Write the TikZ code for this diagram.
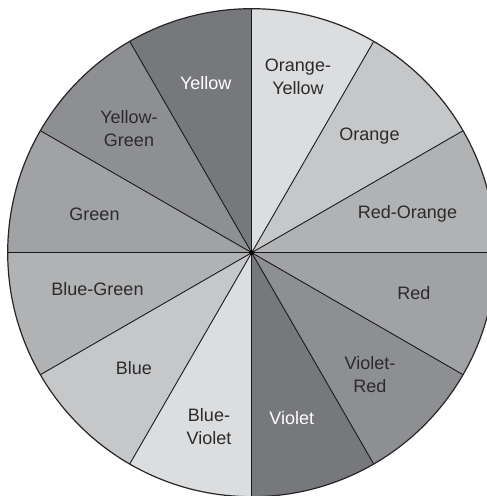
\documentclass[tikz,border=0pt]{standalone}
\usepackage{fontspec}
\setmainfont{Liberation Sans}
\definecolor{gA}{HTML}{77787B}
\definecolor{gB}{HTML}{8E8F92}
\definecolor{gC}{HTML}{A1A2A5}
\definecolor{gD}{HTML}{B1B2B4}
\definecolor{gE}{HTML}{C6C7C9}
\definecolor{gF}{HTML}{DCDDDF}
\definecolor{txt}{HTML}{2B2B2B}
\begin{document}
\begin{tikzpicture}[x=1pt,y=1pt,
  lbl/.style={font=\fontsize{18}{23}\selectfont, text=txt, align=center, inner sep=0pt},
  wlbl/.style={lbl, text=white},
  spoke/.style={line width=0.9pt, black!90},
  rim/.style={line width=1.2pt, black!85}]
\useasboundingbox (0,0) rectangle (487,496);
\clip (0,0) rectangle (487,496);
\coordinate (c) at (251.7,243.3);
\foreach \a/\col in {0/gD,30/gE,60/gF,90/gA,120/gB,150/gC,180/gD,210/gE,240/gF,270/gA,300/gB,330/gC}{
  \fill[\col] (c) -- ++(\a:244) arc[start angle=\a, end angle=\a+30, radius=244] -- cycle;
}
\foreach \a in {0,30,...,330}{
  \draw[spoke] (c) -- ++(\a:244);
}
\draw[rim] (c) circle[radius=244];
\fill (c) circle[radius=2.5];
\node[wlbl] (yellow) at (205.7,413.3) {Yellow};
\node[lbl] (oy) at (298,419.5) {Orange-\\Yellow};
\node[lbl] (orange) at (369.5,360) {Orange};
\node[lbl] (ro) at (407.5,282) {Red-Orange};
\node[lbl] (red) at (413.8,203) {Red};
\node[lbl] (vr) at (370,121.3) {Violet-\\Red};
\node[wlbl] (violet) at (291.7,78) {Violet};
\node[lbl] (bv) at (209,69.5) {Blue-\\Violet};
\node[lbl] (blue) at (134,128) {Blue};
\node[lbl] (bg) at (97.5,207) {Blue-Green};
\node[lbl] (green) at (94.5,282) {Green};
\node[lbl] (yg) at (129,367.5) {Yellow-\\Green};
\end{tikzpicture}
\end{document}
